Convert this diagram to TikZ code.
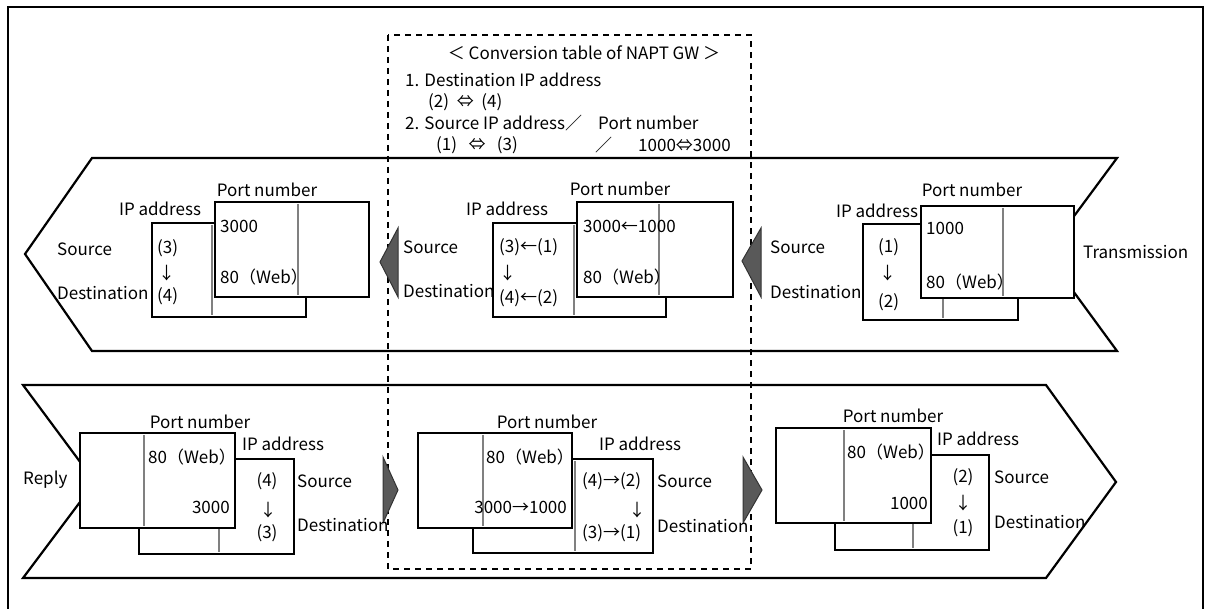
\documentclass[tikz,border=0pt]{standalone}
\usepackage{fontspec}
\setmainfont{Noto Sans CJK JP}
\usepackage{tikz}
\usetikzlibrary{shapes, arrows, calc, positioning}

\begin{document}
\begin{tikzpicture}[x=1pt, y=-1pt, line join=miter]
	\tikzstyle{label} = [inner sep=0pt, font=\fontsize{17}{20}\selectfont]
	\tikzstyle{band} = [draw, line width=2.2pt]
	\tikzstyle{frontbox} = [draw, fill=white, line width=2.6pt]
	\tikzstyle{backbox} = [draw, fill=white, line width=2pt]
	\tikzstyle{divider} = [draw=gray, line width=2pt]
	\tikzstyle{head} = [draw=black!80, fill=gray!70!black, line width=1pt]

	\useasboundingbox (0,0) rectangle (1206,609);
	\draw[line width=2.6pt] (8,615) -- (8,7) -- (1203,7) -- (1203,615);

	\draw[band] (25,254) -- (92,158) -- (1117,158) -- (1046,254) -- (1117,351) -- (92,351) -- cycle;
	\draw[band] (23,385) -- (1046,385) -- (1116,482) -- (1046,578) -- (23,578) -- (95,482) -- cycle;

	\draw[dashed, line width=1.2pt, dash pattern=on 6pt off 5pt] (388,35) rectangle (751,569);

	\path
		node[label] (title) at (584,53) {＜ Conversion table of NAPT GW ＞}
		node[label, anchor=west] (rule1) at (405,80) {1. Destination IP address}
		node[label, anchor=west] (pair1) at (428,102) {(2) \ ⇔ \ (4)}
		node[label, anchor=west] (rule2) at (405,123) {2. Source IP address}
		node[label, anchor=west] (slash1) at (565,123) {／}
		node[label, anchor=west] (rule3) at (598,123) {Port number}
		node[label, anchor=west] (pair2) at (436,145) {(1) \ \ ⇔ \ \ (3)}
		node[label, anchor=west] (slash2) at (595,145) {／}
		node[label, anchor=west] (pair3) at (638,145) {1000⇔3000}
	;

	\draw[head] (380,262) -- (398,228) -- (398,297) -- cycle;
	\draw[head] (742,261) -- (761,228) -- (761,297) -- cycle;
	\draw[head] (398,490) -- (383,457) -- (383,523) -- cycle;
	\draw[head] (762,490) -- (743,457) -- (743,523) -- cycle;

	% transmission, left packet
	\draw[backbox] (152,223) rectangle (306,317);
	\draw[divider] (212,225) -- (212,315);
	\draw[frontbox] (215,202) rectangle (369,297);
	\draw[divider] (298,204) -- (298,295);
	\path
		node[label] (port1) at (267,190) {Port number}
		node[label] (ip1) at (160,209) {IP address}
		node[label, anchor=west] (src1) at (57,249) {Source}
		node[label, anchor=west] (dst1) at (57,293) {Destination}
		node[label, anchor=west] (a1) at (157,248) {(3)}
		node[label, anchor=west] (d1) at (158,273) {↓}
		node[label, anchor=west] (b1) at (157,296) {(4)}
		node[label, anchor=west] (pa1) at (220,226) {3000}
		node[label, anchor=west] (pb1) at (220,277) {80（Web）}
	;

	% transmission, middle packet
	\draw[backbox] (493,223) rectangle (666,317);
	\draw[divider] (574,225) -- (574,315);
	\draw[frontbox] (577,202) rectangle (733,297);
	\draw[divider] (659,204) -- (659,295);
	\path
		node[label] (port2) at (620,189) {Port number}
		node[label] (ip2) at (507,209) {IP address}
		node[label, anchor=west] (src2) at (403,247) {Source}
		node[label, anchor=west] (dst2) at (403,291) {Destination}
		node[label, anchor=west] (a2) at (499,247) {(3)←(1)}
		node[label, anchor=west] (d2) at (499,273) {↓}
		node[label, anchor=west] (b2) at (499,298) {(4)←(2)}
		node[label, anchor=west] (pa2) at (583,226) {3000←1000}
		node[label, anchor=west] (pb2) at (583,277) {80（Web）}
	;

	% transmission, right packet
	\draw[backbox] (863,224) rectangle (1018,320);
	\draw[divider] (943,226) -- (943,318);
	\draw[frontbox] (921,206) rectangle (1074,298);
	\draw[divider] (1003,208) -- (1003,296);
	\path
		node[label] (port3) at (972,190) {Port number}
		node[label] (ip3) at (877,211) {IP address}
		node[label, anchor=west] (src3) at (770,247) {Source}
		node[label, anchor=west] (dst3) at (770,292) {Destination}
		node[label, anchor=west] (a3) at (878,247) {(1)}
		node[label, anchor=west] (d3) at (879,273) {↓}
		node[label, anchor=west] (b3) at (878,302) {(2)}
		node[label, anchor=west] (pa3) at (926,228) {1000}
		node[label, anchor=west] (pb3) at (926,282) {80（Web）}
		node[label, anchor=west] (send) at (1083,252) {Transmission}
	;

	% reply, left packet
	\draw[backbox] (139,459) rectangle (294,554);
	\draw[divider] (219,461) -- (219,552);
	\draw[frontbox] (80,433) rectangle (235,528);
	\draw[divider] (144,435) -- (144,526);
	\path
		node[label] (port4) at (200,422) {Port number}
		node[label] (ip4) at (283,444) {IP address}
		node[label, anchor=west] (back) at (23,480) {Reply}
		node[label, anchor=west] (src4) at (297,481) {Source}
		node[label, anchor=west] (dst4) at (297,525) {Destination}
		node[label] (a4) at (267,481) {(4)}
		node[label] (d4) at (268,510) {↓}
		node[label] (b4) at (267,533) {(3)}
		node[label, anchor=west] (pa4) at (148,457) {80（Web）}
		node[label, anchor=east] (pb4) at (230,507) {3000}
	;

	% reply, middle packet
	\draw[backbox] (473,459) rectangle (653,553);
	\draw[divider] (575,461) -- (575,551);
	\draw[frontbox] (418,433) rectangle (572,528);
	\draw[divider] (483,435) -- (483,526);
	\path
		node[label] (port5) at (547,422) {Port number}
		node[label] (ip5) at (640,444) {IP address}
		node[label, anchor=west] (src5) at (657,481) {Source}
		node[label, anchor=west] (dst5) at (657,526) {Destination}
		node[label, anchor=west] (a5) at (582,481) {(4)→(2)}
		node[label] (d5) at (637,510) {↓}
		node[label, anchor=west] (b5) at (582,533) {(3)→(1)}
		node[label, anchor=west] (pa5) at (486,457) {80（Web）}
		node[label, anchor=east] (pb5) at (567,507) {3000→1000}
	;

	% reply, right packet
	\draw[backbox] (835,455) rectangle (989,550);
	\draw[divider] (913,457) -- (913,548);
	\draw[frontbox] (776,428) rectangle (931,523);
	\draw[divider] (844,430) -- (844,521);
	\path
		node[label] (port6) at (893,416) {Port number}
		node[label] (ip6) at (978,439) {IP address}
		node[label, anchor=west] (src6) at (994,477) {Source}
		node[label, anchor=west] (dst6) at (994,522) {Destination}
		node[label] (a6) at (963,477) {(2)}
		node[label] (d6) at (963,503) {↓}
		node[label] (b6) at (963,528) {(1)}
		node[label, anchor=west] (pa6) at (847,452) {80（Web）}
		node[label, anchor=east] (pb6) at (928,503) {1000}
	;
\end{tikzpicture}
\end{document}
